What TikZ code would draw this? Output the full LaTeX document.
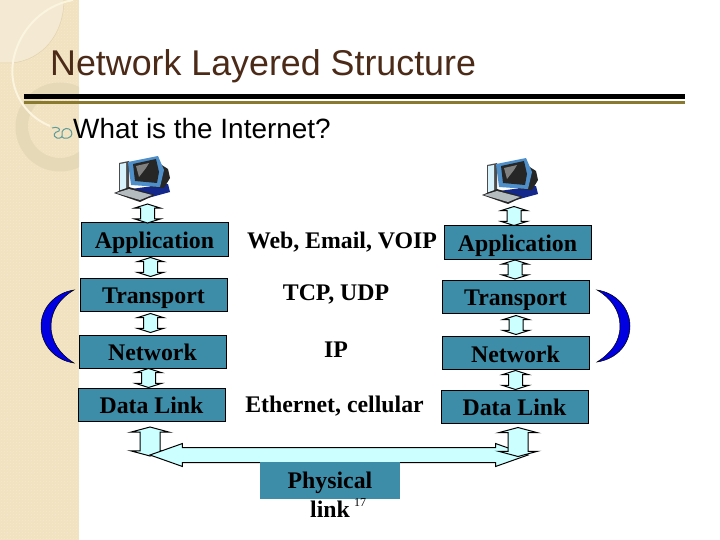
\documentclass[tikz,border=0pt]{standalone}
\usepackage{fontspec}
\setmainfont{Liberation Serif}
\newfontfamily\headfont{Liberation Sans}
\usepackage{tikz}
\usetikzlibrary{shapes.arrows, patterns}

\definecolor{bandtan}{HTML}{F1E2C0}
\definecolor{bandpale}{HTML}{F5E9CE}
\definecolor{squarepale}{HTML}{F4EAD3}
\definecolor{squareedge}{HTML}{E2D3AE}
\definecolor{arcpale}{HTML}{FBF4DE}
\definecolor{ringtan}{HTML}{E6D9B8}
\definecolor{boxteal}{HTML}{3D8CA8}
\definecolor{arrowcyan}{HTML}{CCFFFF}
\definecolor{titlebrown}{HTML}{4B2A18}
\definecolor{ruleolive}{HTML}{8A7A30}
\definecolor{bulletteal}{HTML}{5E9C98}
\definecolor{crescentblue}{HTML}{0000E0}
\definecolor{bezelblue}{HTML}{4E8FC9}
\definecolor{basenavy}{HTML}{14288C}

\tikzset{
  layerbox/.style={draw=black, line width=1pt, fill=boxteal, minimum width=147, minimum height=33, inner sep=0pt, text height=18, text depth=0, font=\fontsize{23.8}{26}\selectfont\bfseries},
  protolabel/.style={inner sep=0pt, anchor=base, font=\fontsize{23.8}{26}\selectfont\bfseries},
  linkarrow/.style={draw=black, line width=1pt, fill=arrowcyan, shape=double arrow, rotate=90, inner xsep=0pt, inner ysep=6.5pt, minimum height=19, double arrow head extend=6, double arrow tip angle=145},
  cablearrow/.style={linkarrow, inner ysep=9.5pt, minimum height=29, double arrow head extend=9.5, double arrow tip angle=150},
  pics/computer/.style={code={
    \fill[color=black!70] (119,163) -- (129,161) -- (129,190) -- (119,192) -- cycle;
    \fill[color=cyan!15] (120,164) -- (126,163) -- (126,189) -- (120,190) -- cycle;
    \fill[color=basenavy] (131,189) -- (168,184) -- (170,192) -- (148,198) -- cycle;
    \fill[color=black!85] (157,162) -- (168,169) -- (170,178) -- (164,188) -- (150,187) -- cycle;
    \fill[color=bezelblue] (128,162) -- (158,156) -- (164,170) -- (160,187) -- (131,185) -- cycle;
    \fill[color=black!85] (133,164) -- (156,159) -- (159,172) -- (157,183) -- (135,181) -- cycle;
    \fill[color=black!50] (136,166) -- (149,163) -- (146,168) -- (139,177) -- cycle;
    \fill[color=black!85] (114,193) -- (129,187) -- (155,195) -- (140,202) -- cycle;
    \fill[color=cyan!20!black!35] (116,193) -- (129,189) -- (152,195) -- (140,200) -- cycle;
  }}
}

\begin{document}
\begin{tikzpicture}[x=1pt,y=-1pt]
\useasboundingbox (0,0) rectangle (720,540);

\fill[color=bandtan] (0,0) rectangle (79,540);
\pattern[pattern=crosshatch dots, pattern color=bandpale] (0,0) rectangle (79,540);
\begin{scope}
\clip (0,0) rectangle (79,540);
\fill[color=squarepale, draw=squareedge, line width=0.5pt] (-1,-1) -- (64,-1) .. controls (64,35) and (42,60) .. (12,63) -- (-1,63) -- cycle;
\fill[color=ringtan, even odd rule] (60,127) circle (44.5) (60,126) circle (32);
\draw[color=arcpale, line width=2pt] (73,0) .. controls (30,8) and (8,50) .. (13,80) .. controls (16,100) and (30,118) .. (50,126);
\end{scope}

\node[font=\fontsize{35.8}{40}\selectfont\headfont, color=titlebrown, anchor=base west, inner sep=0pt] (title) at (50,76) {Network Layered Structure};
\fill[color=black] (24,94) rectangle (685,99.5);
\fill[color=ruleolive] (24,101) rectangle (685,104);

\draw[color=bulletteal, line width=1pt] (52,128) .. controls (57,126) and (61,129) .. (59,131) .. controls (54,132) and (52,136) .. (57,138) .. controls (60,139) and (63,137) .. (62,134) .. controls (61,131) and (65,127) .. (69,129) .. controls (73,131) and (73,137) .. (68,138) .. controls (65,139) and (63,138) .. (62,137);
\node[font=\fontsize{27.9}{30}\selectfont\headfont, anchor=base west, inner sep=0pt] (question) at (73,138.5) {What is the Internet?};

\pic {computer};
\pic at (368,2) {computer};

\node[layerbox] (applL) at (154.5,239.5) {Application};
\node[layerbox] (tranL) at (153.5,294.5) {Transport};
\node[layerbox] (netwL) at (152.5,351.5) {Network};
\node[layerbox] (linkL) at (151.5,404.5) {Data Link};
\node[layerbox] (applR) at (517.5,242.5) {Application};
\node[layerbox] (tranR) at (515.5,296.5) {Transport};
\node[layerbox] (netwR) at (515.5,353) {Network};
\node[layerbox] (linkR) at (514.5,406.5) {Data Link};

\node[protolabel] (webL) at (342,248) {Web, Email, VOIP};
\node[protolabel] (tcpL) at (336,300) {TCP, UDP};
\node[protolabel] (ipL) at (336,357) {IP};
\node[protolabel] (ethL) at (334.5,412) {Ethernet, cellular};

\node[linkarrow] (arrL1) at (147.5,213.5) {};
\node[linkarrow] (arrL2) at (150.5,267) {};
\node[linkarrow] (arrL3) at (150.5,323) {};
\node[linkarrow] (arrL4) at (148.5,378) {};
\node[linkarrow] (arrR1) at (514,216) {};
\node[linkarrow] (arrR2) at (515,269.5) {};
\node[linkarrow] (arrR3) at (516,325) {};
\node[linkarrow] (arrR4) at (515.5,380) {};

\node[cablearrow] (cableL) at (150,441.5) {};
\node[draw=black, line width=1pt, fill=arrowcyan, shape=double arrow, inner xsep=0pt, inner ysep=7pt, minimum height=378, double arrow head extend=4, double arrow tip angle=39] (bus) at (339,455) {};
\node[cablearrow] (cableR) at (518,442) {};

\node[fill=boxteal, minimum width=140, minimum height=37, inner sep=0pt] (physbox) at (330,480.5) {};
\node[protolabel] (phys) at (330,488) {Physical};
\node[protolabel] (link) at (330,517.5) {link};
\node[font=\fontsize{12}{14}\selectfont, inner sep=0pt] (pagenum) at (360,503) {17};

\fill[color=crescentblue, draw=black, line width=0.5pt] (74,290) .. controls (54,293) and (41,309) .. (41,326) .. controls (41,344) and (54,360) .. (74,363) .. controls (60,354) and (51,342) .. (51,326) .. controls (51,311) and (60,298) .. (74,290) -- cycle;
\fill[color=crescentblue, draw=black, line width=0.5pt] (597,290) .. controls (617,293) and (630,309) .. (630,326) .. controls (630,344) and (617,359) .. (597,362) .. controls (611,353) and (620,342) .. (620,326) .. controls (620,311) and (611,298) .. (597,290) -- cycle;
\end{tikzpicture}
\end{document}
